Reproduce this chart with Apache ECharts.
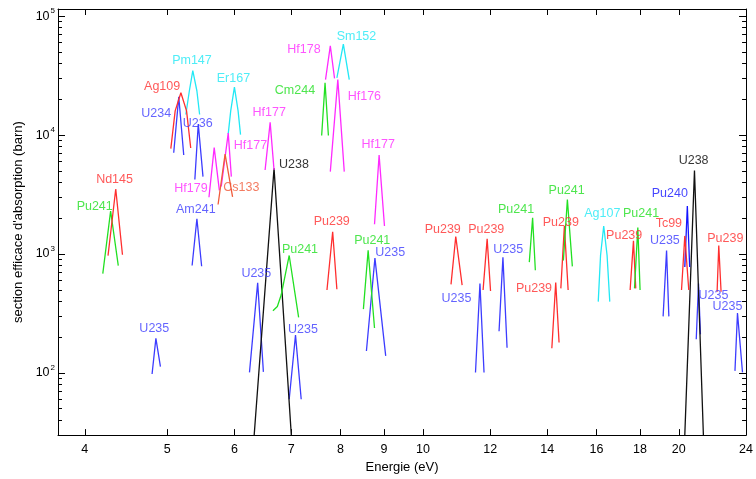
<!DOCTYPE html>
<html><head><meta charset="utf-8">
<script src="https://cdn.jsdelivr.net/npm/echarts@6/dist/echarts.min.js"></script>
<style>html,body{margin:0;padding:0;background:#fff}#c{width:756px;height:479px}</style>
</head><body><div id="c"></div>
<script>
// Each resonance peak: list of [energy (eV), cross section (barn)] points
const U235 = [
  [[4.80,98],[4.85,195],[4.91,113]],
  [[6.25,101],[6.39,572],[6.49,102]],
  [[6.96,60],[7.08,208],[7.19,60]],
  [[8.58,153],[8.78,923],[9.04,139]],
  [[11.53,101],[11.67,566],[11.80,101]],
  [[12.29,224],[12.42,941],[12.56,163]],
  [[19.17,299],[19.35,1070],[19.47,299]],
  [[20.97,192],[21.10,566],[21.21,211]],
  [[23.29,104],[23.45,319],[23.77,101]]
];
const U238 = [
  [[6.33,30],[6.68,5250],[7.00,30]],
  [[20.33,30],[20.87,5030],[21.38,30]]
];
const Pu239 = [
  [[7.71,498],[7.83,1540],[7.92,505]],
  [[10.79,555],[10.93,1405],[11.12,548]],
  [[11.77,498],[11.90,1340],[12.01,488]],
  [[14.18,161],[14.33,577],[14.46,180]],
  [[14.53,514],[14.67,1720],[14.82,498]],
  [[17.53,498],[17.69,1290],[17.80,514]],
  [[22.19,482],[22.29,1180],[22.43,482]]
];
const Pu241 = [
  [[4.20,685],[4.29,2300],[4.38,800]],
  [[6.66,333],[6.74,362],[6.81,452],[6.96,972],[7.14,293]],
  [[8.51,344],[8.62,1075],[8.77,239]],
  [[13.34,855],[13.46,2020],[13.56,730]],
  [[14.63,883],[14.79,2870],[14.99,788]],
  [[17.74,514],[17.90,1670],[18.01,498]]
];
const Pu240 = [[[20.33,777],[20.47,2530],[20.60,777]]];
const U234 = [[[5.09,7100],[5.16,21000],[5.23,6800]]];
const U236 = [[[5.39,4230],[5.44,12400],[5.51,4480]]];
const Am241 = [[[5.35,800],[5.42,1980],[5.49,790]]];
const Cm244 = [[[7.60,9940],[7.67,27500],[7.74,9940]]];
const Nd145 = [[[4.26,970],[4.35,3520],[4.43,985]]];
const Pm147 = [[[5.26,14900],[5.31,23500],[5.36,34800],[5.42,23500],[5.46,14900]]];
const Sm152 = [[[7.92,30300],[8.06,58300],[8.19,29300]]];
const Er167 = [[[5.90,10250],[5.94,16000],[6.00,25300],[6.06,16000],[6.10,10100]]];
const Hf176 = [[[7.78,4930],[7.94,29300],[8.08,4930]]];
const Hf177 = [
  [[5.79,3700],[5.90,10400],[5.95,4480]],
  [[6.52,5090],[6.61,12800],[6.68,5090]],
  [[8.77,1780],[8.88,6790],[9.01,1720]]
];
const Hf178 = [[[7.68,29300],[7.78,56400],[7.87,30000]]];
const Hf179 = [[[5.60,3000],[5.68,7850],[5.76,3430]]];
const Ag107 = [[[16.08,398],[16.18,972],[16.32,1720],[16.47,972],[16.59,398]]];
const Ag109 = [[[5.05,7700],[5.11,16000],[5.19,22700],[5.27,16000],[5.33,7800]]];
const Cs133 = [[[5.74,2610],[5.85,6920],[5.97,3020]]];
const Tc99 = [[[20.15,498],[20.33,1420],[20.55,498]]];

// Text annotations (anchor in data units)
const labelNames = ['Pm147','Hf178','Sm152','Ag109','Er167','Cm244','Hf176','U234','U236','Hf177','Hf177','Hf177','U238','Nd145','Hf179','Cs133','Pu241','Am241','Pu239','Pu241','U235','U235','Pu241','U235','U235','Pu239','Pu239','U235','U235','Pu241','Pu239','Pu241','Pu239','Ag107','Pu239','Pu241','U235','Pu240','Tc99','U238','Pu239','U235','U235'];
const labelEnergy = [5.348,7.244,8.351,4.933,5.984,7.069,8.532,4.855,5.433,6.594,6.266,8.858,7.05,4.336,5.333,6.114,4.109,5.404,7.81,8.716,9.151,6.367,7.166,7.224,4.829,10.55,11.87,10.95,12.60,12.87,14.53,14.76,13.51,16.26,17.25,18.06,19.26,19.52,19.47,20.82,22.69,21.97,22.82];
const labelSigma = [42730,52720,67570,25500,29720,23630,21070,15230,12580,15520,8103,8260,5636,4232,3564,3633,2526,2385,1861,1294,1029,689,1090,232,236,1597,1597,419,1090,2385,1826,3430,517,2210,1424,2210,1294,3238,1791,6085,1345,444,360];

const xTicks = [4,5,6,7,8,9,10,12,14,16,18,20,24];
const yMajor = [100,1000,10000,100000];
const yMinor = [40,50,60,70,80,90,200,300,400,500,600,700,800,900,2000,3000,4000,5000,6000,7000,8000,9000,20000,30000,40000,50000,60000,70000,80000,90000];

const colors = {U235:'#3c3cff',U238:'#111111',Pu239:'#ff2e2e',Pu241:'#22e022',Pu240:'#1414ff',U234:'#3c3cff',U236:'#3c3cff',Am241:'#3c3cff',Cm244:'#22e022',Nd145:'#ff2e2e',Pm147:'#22e8f5',Sm152:'#22e8f5',Er167:'#22e8f5',Hf176:'#ff2aff',Hf177:'#ff2aff',Hf178:'#ff2aff',Hf179:'#ff2aff',Ag107:'#22e8f5',Ag109:'#ff2e2e',Cs133:'#f05a3a',Tc99:'#ff2e2e'};
const peaks = {U235,U238,Pu239,Pu241,Pu240,U234,U236,Am241,Cm244,Nd145,Pm147,Sm152,Er167,Hf176,Hf177,Hf178,Hf179,Ag107,Ag109,Cs133,Tc99};

const FONT = '"Liberation Sans", Arial, Helvetica, sans-serif';
const XMIN = 3.72, XMAX = 24, YMIN = 30, YMAX = 115000;

const series = [];
Object.keys(peaks).forEach(name => {
  peaks[name].forEach(pts => {
    series.push({type:'line', data: pts, symbol:'none', clip:true, silent:true,
      xAxisIndex:0, yAxisIndex:0, lineStyle:{color: colors[name], width:1.3}, z:2});
  });
});
series.push({type:'scatter', xAxisIndex:0, yAxisIndex:0, symbolSize:1, silent:true, z:5,
  itemStyle:{color:'rgba(0,0,0,0)'},
  label:{show:true, position:'inside', formatter:'{b}', fontSize:12.5, fontFamily:FONT},
  data: labelNames.map((n,i)=>({name:n, value:[labelEnergy[i], labelSigma[i]], label:{color: n==='U238'?'#000':colors[n]}}))
});

const axLine = {show:true, lineStyle:{color:'#000', width:1}};
function xAx(pos, labels){
  return {type:'log', logBase:10, min:XMIN, max:XMAX, position:pos,
    axisLine:axLine, splitLine:{show:false}, minorTick:{show:false},
    axisTick:{show:true, inside:true, length:6, customValues:xTicks, lineStyle:{color:'#000'}},
    axisLabel:{show:labels, customValues:xTicks, formatter:v=>String(Math.round(v)), color:'#000', fontSize:12.5, fontFamily:FONT, margin:8},
    name: labels ? 'Energie (eV)' : '', nameLocation:'middle', nameGap:22,
    nameTextStyle:{color:'#000', fontSize:13, fontFamily:FONT}};
}
function yAx(pos, major, labels){
  return {type:'log', logBase:10, min:YMIN, max:YMAX, position:pos,
    axisLine: major ? axLine : {show:false}, splitLine:{show:false}, minorTick:{show:false},
    axisTick:{show:true, inside:true, length: major?7:4, customValues: major?yMajor:yMinor, lineStyle:{color:'#000'}},
    axisLabel:{show:labels, customValues:yMajor, margin:3, color:'#000',
      formatter: v => '{b|10}{s|' + Math.round(Math.log10(v)) + '}',
      rich:{b:{fontSize:12.5, fontFamily:FONT, color:'#000'}, s:{fontSize:8, fontFamily:FONT, color:'#000', padding:[0,0,11,1]}}},
    name: labels ? "section efficace d'absorption (barn)" : '', nameLocation:'middle', nameGap:29,
    nameTextStyle:{color:'#000', fontSize:13, fontFamily:FONT}};
}

const chart = echarts.init(document.getElementById('c'), null, {renderer:'canvas'});
chart.setOption({
  animation:false, backgroundColor:'#ffffff',
  grid:{left:58, right:4, top:9, bottom:37, containLabel:false},
  xAxis:[xAx('bottom', true), xAx('top', false)],
  yAxis:[yAx('left', true, true), yAx('left', false, false), yAx('right', true, false), yAx('right', false, false)],
  series: series
});
</script></body></html>
